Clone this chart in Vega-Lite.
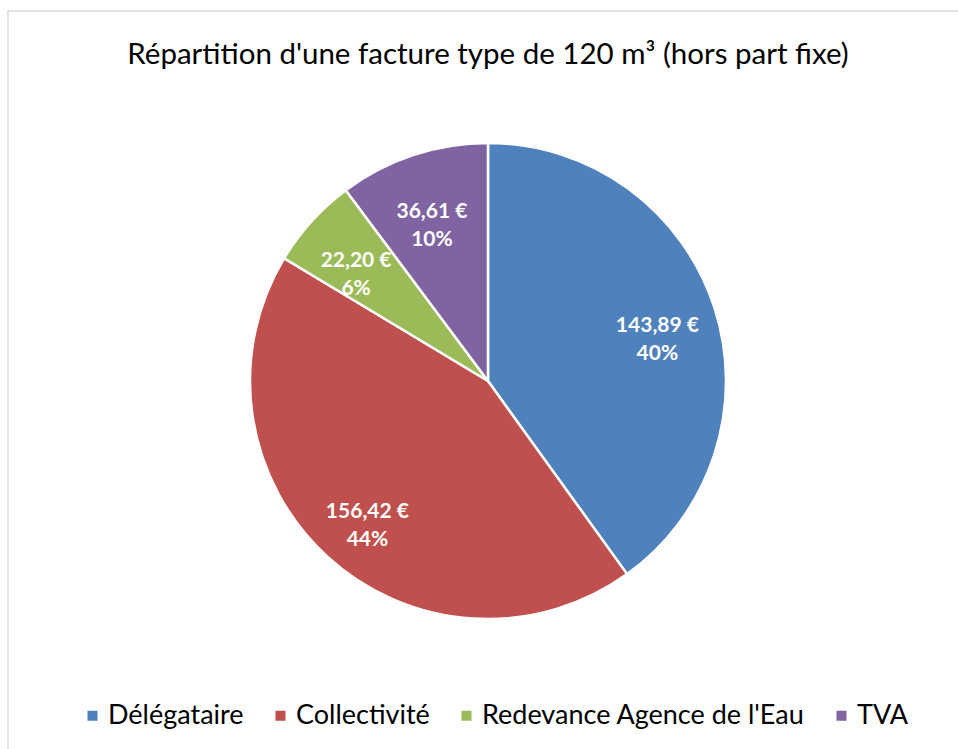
{
  "$schema": "https://vega.github.io/schema/vega-lite/v6.json",
  "autosize": {"type": "none"},
  "width": 960,
  "height": 740,
  "padding": {"left": 8, "top": 11, "right": -10, "bottom": -2},
  "background": "white",
  "config": {
    "view": {"stroke": null},
    "font": "Lato"
  },
  "title": {
    "text": "Répartition d'une facture type de 120 m³ (hors part fixe)",
    "font": "Lato",
    "fontSize": 29.5,
    "fontWeight": "normal",
    "color": "#000000",
    "anchor": "middle",
    "baseline": "alphabetic",
    "offset": -83
  },
  "data": {
    "values": [
      {"poste": "Délégataire", "montant": 143.89, "rang": 1, "etiquette": "143,89 €\n40%"},
      {"poste": "Collectivité", "montant": 156.42, "rang": 2, "etiquette": "156,42 €\n44%"},
      {"poste": "Redevance Agence de l'Eau", "montant": 22.20, "rang": 3, "etiquette": "22,20 €\n6%"},
      {"poste": "TVA", "montant": 36.61, "rang": 4, "etiquette": "36,61 €\n10%"}
    ]
  },
  "layer": [
    {
      "data": {"values": [{"cadre": 1}]},
      "mark": {"type": "rect", "filled": false, "color": "#D9D9D9", "strokeWidth": 1.4}
    },
    {
      "mark": {"type": "arc", "outerRadius": 238, "stroke": "white", "strokeWidth": 2.5},
      "encoding": {
        "theta": {"field": "montant", "type": "quantitative", "stack": true},
        "order": {"field": "rang", "type": "quantitative"},
        "color": {
          "field": "poste",
          "type": "nominal",
          "scale": {
            "domain": ["Délégataire", "Collectivité", "Redevance Agence de l'Eau", "TVA"],
            "range": ["#4F81BD", "#C0504D", "#9BBB59", "#8064A2"]
          },
          "legend": {
            "title": null,
            "orient": "none",
            "direction": "horizontal",
            "legendX": 71,
            "legendY": 691,
            "padding": 0,
            "symbolType": "square",
            "symbolSize": 100,
            "symbolStrokeWidth": 0,
            "labelFont": "Lato",
            "labelFontSize": 27,
            "labelColor": "#000000",
            "labelOffset": 2,
            "columnPadding": 23,
            "labelLimit": 500
          }
        }
      }
    },
    {
      "mark": {"type": "text", "radius": 178, "color": "white", "fontWeight": "bold", "fontSize": 21, "font": "Lato", "lineBreak": "\n", "lineHeight": 28, "baseline": "middle"},
      "encoding": {
        "theta": {"field": "montant", "type": "quantitative", "stack": true},
        "order": {"field": "rang", "type": "quantitative"},
        "text": {"field": "etiquette", "type": "nominal"}
      }
    }
  ]
}
